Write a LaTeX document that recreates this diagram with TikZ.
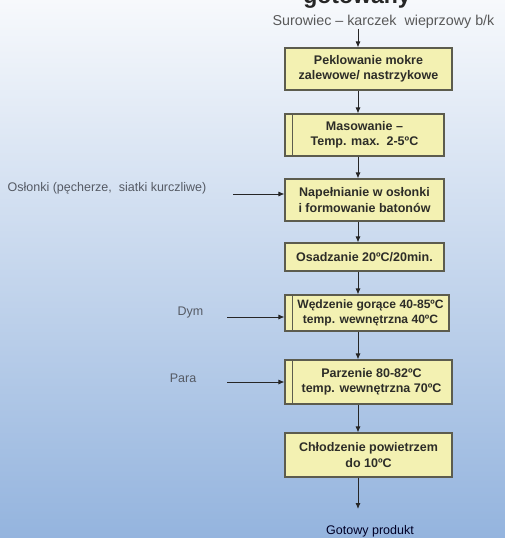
\documentclass[tikz,border=0pt]{standalone}
\usepackage{fontspec}
\setmainfont{Liberation Sans}
\usetikzlibrary{arrows.meta}
\definecolor{bgtop}{RGB}{247,249,252}
\definecolor{bgmid}{RGB}{206,220,239}
\definecolor{bgbot}{RGB}{148,180,222}
\definecolor{boxfill}{RGB}{243,241,178}
\definecolor{boxline}{RGB}{92,92,78}
\definecolor{boxtext}{RGB}{45,45,40}
\definecolor{sidetext}{RGB}{85,90,100}
\tikzset{
  stepbox/.style={draw=boxline, line width=1.1pt, fill=boxfill, text=boxtext,
    font=\fontsize{12.5}{15.5}\selectfont\bfseries, align=center, inner sep=0pt},
  sidelabel/.style={text=sidetext, font=\fontsize{12.5}{15}\selectfont, inner sep=0pt},
  arr/.style={draw=black!85, line width=0.9pt, -{Latex[length=6pt,width=5pt]}},
  innerline/.style={draw=boxline, line width=1.1pt}
}
\begin{document}
\begin{tikzpicture}[x=1pt,y=-1pt]
\useasboundingbox (0,0) rectangle (505,538);
\shade[top color=bgtop, middle color=bgmid, bottom color=bgbot] (0,0) rectangle (505,538);
\begin{scope}
\clip (0,0) rectangle (505,538);
\node[anchor=base, text=black!85, font=\fontsize{23}{23}\selectfont\bfseries, inner sep=0pt] (title) at (357,4) {gotowany};
\end{scope}
\coordinate (spine) at (358,0);
\node[sidelabel, text=black!65, font=\fontsize{14.3}{15}\selectfont] (raw) at (383.5,22) {Surowiec – karczek\ \ wieprzowy b/k};
\node[stepbox, minimum width=167pt, minimum height=42pt] (b1) at (368.5,69) {Peklowanie mokre\\zalewowe/ nastrzykowe};
\node[stepbox, minimum width=159pt, minimum height=42pt] (b2) at (364.5,135) {Masowanie –\\Temp. max.\ \ 2-5ºC};
\node[stepbox, minimum width=159pt, minimum height=42pt] (b3) at (364.5,200) {Napełnianie w osłonki\\i formowanie batonów};
\node[stepbox, minimum width=159pt, minimum height=28pt] (b4) at (364.5,257) {Osadzanie 20ºC/20min.};
\node[stepbox, minimum width=164pt, minimum height=36pt, font=\fontsize{12.1}{15}\selectfont\bfseries] (b5) at (367,313) {\hspace*{7pt}Wędzenie gorące 40-85ºC\\\hspace*{7pt}temp. wewnętrzna 40ºC};
\node[stepbox, minimum width=167pt, minimum height=44pt] (b6) at (368.5,382) {\hspace*{6pt}Parzenie 80-82ºC\\\hspace*{6pt}temp. wewnętrzna 70ºC};
\node[stepbox, minimum width=167pt, minimum height=44pt] (b7) at (368.5,455) {Chłodzenie powietrzem\\do 10ºC};
\node[sidelabel, text=black!75!blue!60!black] (prod) at (370,531) {Gotowy produkt};
% double left lines
\draw[innerline] ([xshift=8pt]b2.north west) -- ([xshift=8pt]b2.south west);
\draw[innerline] ([xshift=8pt]b5.north west) -- ([xshift=8pt]b5.south west);
\draw[innerline] ([xshift=8pt]b6.north west) -- ([xshift=8pt]b6.south west);
% side labels
\node[sidelabel] (osl) at (107,188) {Osłonki (pęcherze,\ \ siatki kurczliwe)};
\node[sidelabel] (dym) at (190.5,312) {Dym};
\node[sidelabel] (para) at (183,378) {Para};
\coordinate (oslstart) at (233,194);
\coordinate (dymstart) at (227,317);
\coordinate (parastart) at (227,382);
\coordinate (prodend) at (358,509);
% main arrows
\draw[arr] (358,29) -- (b1.north -| spine);
\draw[arr] (b1.south -| spine) -- (b2.north -| spine);
\draw[arr] (b2.south -| spine) -- (b3.north -| spine);
\draw[arr] (b3.south -| spine) -- (b4.north -| spine);
\draw[arr] (b4.south -| spine) -- (b5.north -| spine);
\draw[arr] (b5.south -| spine) -- (b6.north -| spine);
\draw[arr] (b6.south -| spine) -- (b7.north -| spine);
\draw[arr] (b7.south -| spine) -- (prodend);
% side arrows
\draw[arr] (oslstart) -- (oslstart -| b3.west);
\draw[arr] (dymstart) -- (dymstart -| b5.west);
\draw[arr] (parastart) -- (parastart -| b6.west);
\end{tikzpicture}
\end{document}
